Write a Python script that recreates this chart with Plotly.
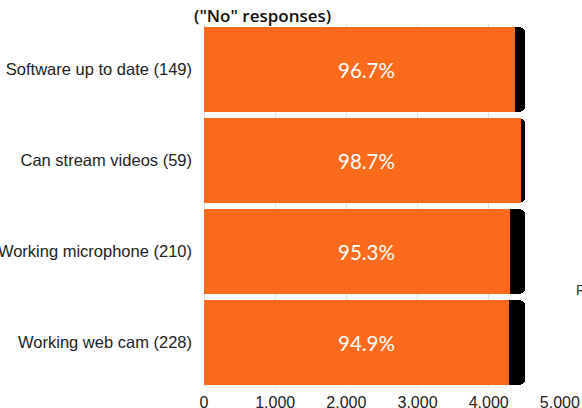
import plotly.graph_objects as go

categories = ["Software up to date (149)", "Can stream videos (59)",
              "Working microphone (210)", "Working web cam (228)"]
yes_counts = [4366, 4456, 4305, 4287]
no_counts = [149, 59, 210, 228]
pct_labels = ["96.7%", "98.7%", "95.3%", "94.9%"]
x_ticks = [0, 1000, 2000, 3000, 4000, 5000]
x_ticktext = ["0", "1,000", "2,000", "3,000", "4,000", "5,000"]

ORANGE = "#FD6A1B"

fig = go.Figure()
fig.add_trace(go.Bar(y=categories, x=yes_counts, orientation="h", name="Yes",
                     marker=dict(color=ORANGE, line=dict(width=0)), hoverinfo="skip"))
fig.add_trace(go.Bar(y=categories, x=no_counts, orientation="h", name="No",
                     marker=dict(color="#000000", line=dict(width=0)), hoverinfo="skip"))

annotations = []
for cat, y, n, p in zip(categories, yes_counts, no_counts, pct_labels):
    annotations.append(dict(x=(y + n) / 2, y=cat, xref="x", yref="y", text=p,
                            showarrow=False, xshift=2,
                            font=dict(family="Lato, Open Sans", size=20.5, color="white")))
annotations.append(dict(x=-0.035, y=1.0, xref="paper", yref="paper", xanchor="left",
                        yanchor="middle", yshift=9, text='("No" responses)', showarrow=False,
                        font=dict(family="Open Sans", size=17, color="#111", weight=600)))
annotations.append(dict(x=1.04, y=0.27, xref="paper", yref="paper", xanchor="left",
                        yanchor="middle", text="R", showarrow=False,
                        font=dict(family="Liberation Sans, Arial", size=14, color="#333")))

fig.update_layout(
    width=582, height=408,
    margin=dict(l=204, r=22, t=24, b=20),
    barmode="stack", bargap=0.07, barcornerradius=6,
    showlegend=False,
    plot_bgcolor="white", paper_bgcolor="white",
    annotations=annotations,
)
fig.update_xaxes(range=[0, 5002], tickvals=x_ticks, ticktext=x_ticktext,
                 automargin=False,
                 showgrid=True, gridcolor="#e3e3e3", gridwidth=1,
                 zeroline=True, zerolinecolor="#e3e3e3", zerolinewidth=1,
                 showline=False, ticks="", ticklabelstandoff=3,
                 tickfont=dict(family="Liberation Sans, Arial", size=16, color="#222"))
fig.update_yaxes(categoryorder="array", categoryarray=categories, autorange="reversed",
                 automargin=False,
                 showgrid=False, showline=False, ticks="", ticklabelstandoff=11,
                 tickfont=dict(family="Liberation Sans, Arial", size=16.5, color="#222"))

fig.write_html("out.html", config={"displayModeBar": False},
               post_script="document.body.style.margin='0';document.body.style.overflow='hidden';")
